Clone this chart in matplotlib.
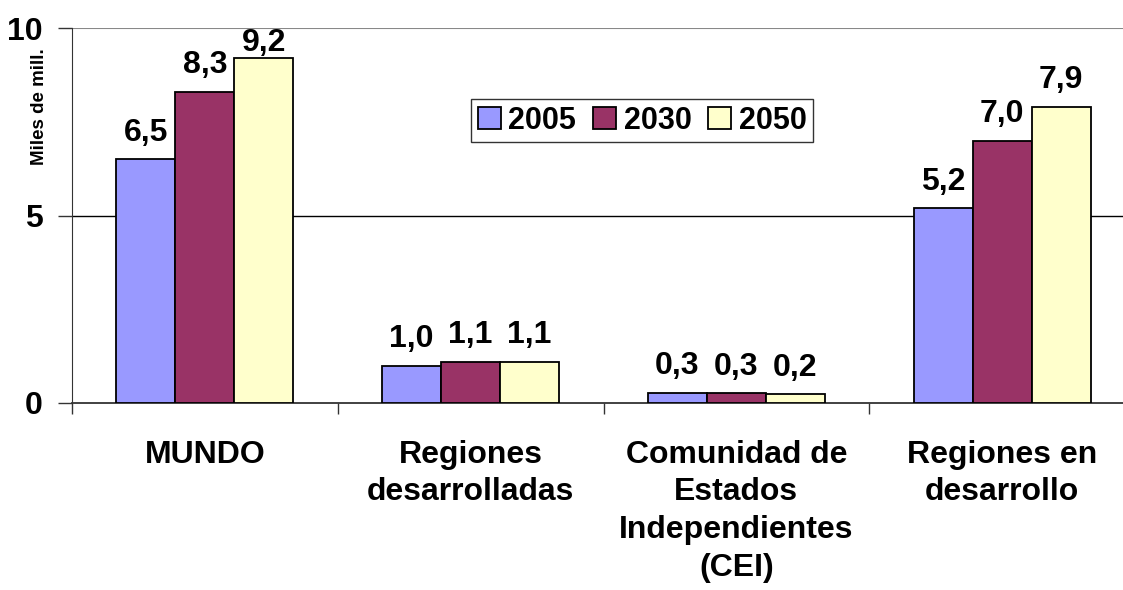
import matplotlib
matplotlib.use("Agg")
import matplotlib.pyplot as plt
import numpy as np

categories = ["MUNDO", "Regiones\ndesarrolladas", "Comunidad de\nEstados\nIndependientes\n(CEI)", "Regiones en\ndesarrollo"]
series_names = ["2005", "2030", "2050"]
v2005 = [6.5, 1.0, 0.28, 5.2]
v2030 = [8.3, 1.1, 0.27, 7.0]
v2050 = [9.2, 1.1, 0.24, 7.9]
colors = ["#9999FF", "#993366", "#FFFFCC"]
yticks = [0, 5, 10]

plt.rcParams['font.family'] = ['Liberation Sans', 'DejaVu Sans']

W, H = 1123, 590
ax_left, ax_right, ax_top, ax_bottom = 72, 1135, 28, 403
fig = plt.figure(figsize=(W/100, H/100), dpi=100)
ax = fig.add_axes([ax_left/W, (H-ax_bottom)/H, (ax_right-ax_left)/W, (ax_bottom-ax_top)/H])

x = np.arange(len(categories))
w = 0.222
for i, (vals, name, c) in enumerate(zip([v2005, v2030, v2050], series_names, colors)):
    pos = x + (i - 1) * w
    ax.bar(pos, vals, width=w, color=c, edgecolor="black", linewidth=1.3, label=name, zorder=3)
    for p, v in zip(pos, vals):
        ax.text(p, min(v + 0.3, 9.2), f"{v:.1f}".replace(".", ","), ha="center", va="bottom",
                fontsize=23, fontweight="bold", zorder=4)

ax.set_xlim(-0.5, len(categories) - 0.5)
ax.set_ylim(0, 10)
ax.set_yticks(yticks)
ax.set_yticklabels([str(t) for t in yticks], fontsize=23, fontweight="bold")
ax.set_xticks(np.arange(len(categories) + 1) - 0.5)
ax.set_xticklabels([])
ax.tick_params(axis="x", length=8, width=1, color="#333333", direction="out")
ax.tick_params(axis="y", length=10, width=1, color="#333333", direction="out", pad=11)
for c_i, lab in enumerate(categories):
    ax.text(c_i, -0.98, lab, ha="center", va="top", fontsize=23, fontweight="bold",
            linespacing=1.33)

ax.axhline(5, color="black", linewidth=1, zorder=1)
ax.axhline(10, color="#888888", linewidth=1.5, zorder=1)
for s in ["top", "right"]:
    ax.spines[s].set_visible(False)
ax.spines["left"].set_color("#333333")
ax.spines["bottom"].set_color("#333333")
ax.spines["bottom"].set_linewidth(1.3)

fig.text(40/W, 1 - 107/H, "Miles de mill.", rotation=90, ha="center", va="center",
         fontsize=13.5, fontweight="bold")

leg = ax.legend(loc="upper left",
                bbox_to_anchor=((471-ax_left)/(ax_right-ax_left), (ax_bottom-99)/(ax_bottom-ax_top)),
                ncol=3, prop={"size": 22, "weight": "bold"}, frameon=True, fancybox=False,
                edgecolor="black", handlelength=0.75, handleheight=0.75, handletextpad=0.25,
                columnspacing=0.55, borderpad=0.22, borderaxespad=0)
leg.get_frame().set_linewidth(1.0)

fig.savefig("out.png", dpi=100)
